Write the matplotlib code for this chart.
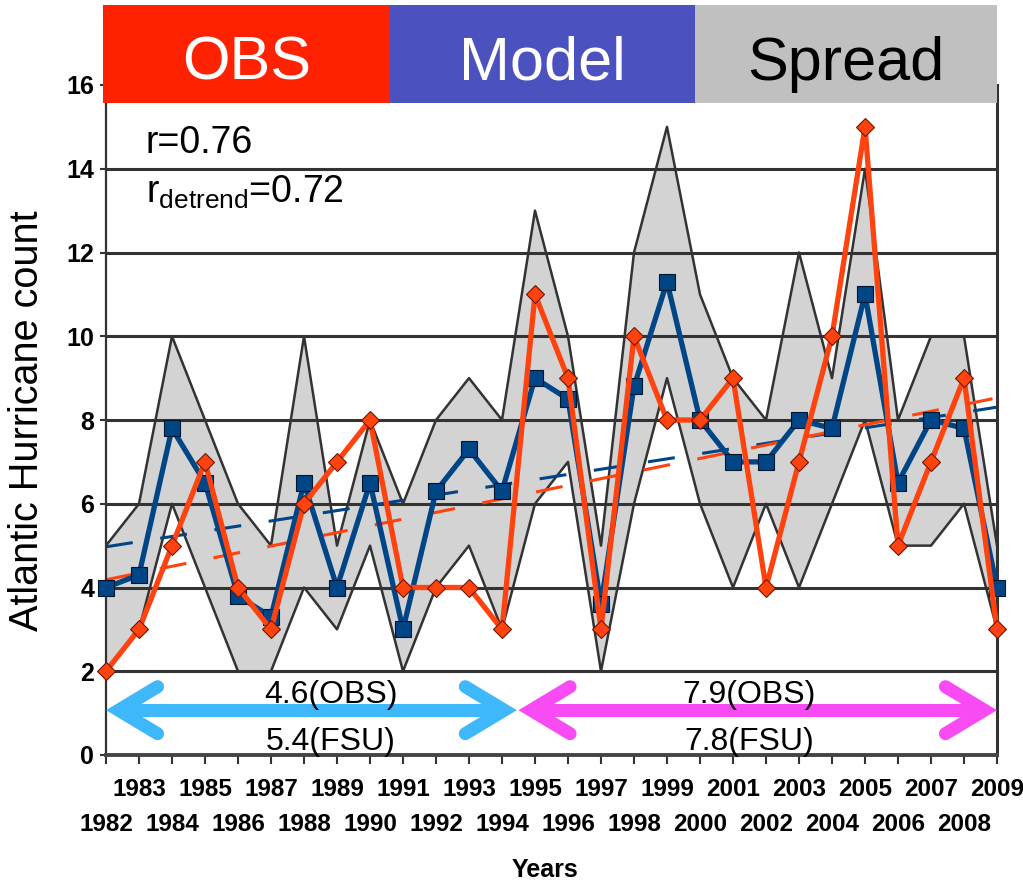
import numpy as np
import matplotlib
matplotlib.use("Agg")
import matplotlib.pyplot as plt
from matplotlib.patches import Rectangle

# ---- data -------------------------------------------------------------
years = np.arange(1982, 2010)
obs = [2, 3, 5, 7, 4, 3, 6, 7, 8, 4, 4, 4, 3, 11, 9, 3, 10, 8, 8, 9, 4, 7, 10, 15, 5, 7, 9, 3]
model = [4, 4.3, 7.8, 6.5, 3.8, 3.3, 6.5, 4, 6.5, 3, 6.3, 7.3, 6.3, 9, 8.5, 3.6, 8.8, 11.3,
         8, 7, 7, 8, 7.8, 11, 6.5, 8, 7.8, 4]
spread_hi = [5, 6, 10, 8, 6, 5, 10, 5, 8, 6, 8, 9, 8, 13, 10, 5, 12, 15, 11, 9, 8, 12, 9, 14,
             8, 10, 10, 5]
spread_lo = [2, 3, 6, 4, 2, 2, 4, 3, 5, 2, 4, 5, 3, 6, 7, 2, 6, 9, 6, 4, 6, 4, 6, 8, 5, 5, 6, 3]
split_year = 1995          # first year of the second period
r_text = "r=0.76"
r_detrend_text = r"r$_{\mathrm{detrend}}$=0.72"
header = [("OBS", "#FF2200", "white"), ("Model", "#4B52BF", "white"), ("Spread", "#C0C0C0", "black")]

# ---- style ------------------------------------------------------------
SANS = ["Liberation Sans", "DejaVu Sans"]
plt.rcParams["font.family"] = SANS
plt.rcParams["mathtext.fontset"] = "custom"
plt.rcParams["mathtext.rm"] = "Liberation Sans"
plt.rcParams["lines.scale_dashes"] = False

BLUE = "#004586"
ORANGE = "#FF420E"
GRID = "#333333"
CYAN = "#3FB8FB"
MAGENTA = "#F94BF4"

W, H = 1023, 885
fig = plt.figure(figsize=(W / 100, H / 100), dpi=100)
ax = fig.add_axes([106 / W, 1 - 755 / H, (997 - 106) / W, (755 - 85) / H])
ax.set_xlim(1982, 2009)
ax.set_ylim(0, 16)

yrs = years.astype(float)

# spread envelope
ax.fill_between(yrs, spread_lo, spread_hi, color="#D3D3D3", lw=0, zorder=1)
ax.plot(yrs, spread_hi, color="#333333", lw=1.8, zorder=1.2)
ax.plot(yrs, spread_lo, color="#333333", lw=1.8, zorder=1.2)

# horizontal grid
for gy in range(2, 17, 2):
    ax.axhline(gy, color=GRID, lw=2.2, zorder=1.5)

# linear trends
for series, col in ((model, BLUE), (obs, ORANGE)):
    k, b = np.polyfit(yrs, series, 1)
    ax.plot(yrs, k * yrs + b, color=col, lw=2.2, dashes=(19.5, 20), zorder=2)

# series
ax.plot(yrs, model, color=BLUE, lw=3.8, marker="s", ms=11, mfc=BLUE, mec="#00162e",
        mew=0.8, zorder=4, clip_on=False)
ax.plot(yrs, obs, color=ORANGE, lw=3.8, marker="D", ms=9, mfc=ORANGE, mec="#6b1800",
        mew=0.8, zorder=5, clip_on=False)

# spines and ticks
ax.spines["top"].set_visible(False)
ax.spines["left"].set_linewidth(1.6)
ax.spines["left"].set_color("#333333")
ax.spines["right"].set_linewidth(2.2)
ax.spines["right"].set_color("#333333")
ax.spines["bottom"].set_linewidth(2.8)
ax.spines["bottom"].set_color("#444444")

odd = years[years % 2 == 1]
even = years[years % 2 == 0]
ax.set_xticks(odd)
ax.set_xticklabels([str(y) for y in odd])
ax.set_xticks(even, minor=True)
ax.set_xticklabels([str(y) for y in even], minor=True)
ax.tick_params(axis="x", which="both", direction="out", length=6.5, width=1.5,
               color="#333333", labelsize=17.5)
ax.tick_params(axis="x", which="major", pad=10)
ax.tick_params(axis="x", which="minor", pad=35)
ax.set_yticks(range(0, 17, 2))
ax.tick_params(axis="y", direction="out", length=4.5, width=1.5, color="#333333",
               labelsize=18, pad=4)
for lbl in ax.get_xticklabels(which="both") + ax.get_yticklabels():
    lbl.set_fontweight("bold")

# axis titles
fig.text(545 / W, 1 - 870 / H, "Years", ha="center", va="center", fontsize=18,
         fontweight="bold")
fig.text(27 / W, 1 - 421 / H, "Atlantic Hurricane count", rotation=90, ha="center",
         va="center", fontsize=28.5)

# correlation annotations
ax.text(1983.2, 14.38, r_text, fontsize=27, va="baseline", ha="left")
ax.text(1983.2, 13.2, r_detrend_text, fontsize=27, va="baseline", ha="left")


# double-headed period arrows
def period_arrow(x0, x1, y, color):
    to_px = ax.transData.transform
    to_data = ax.transData.inverted().transform
    (p0, py), (p1, _) = to_px([(x0, y), (x1, y)])
    w_px = 13.0
    lw = w_px * 72 / 100
    arm_dx, arm_dy = 39.0, 23.5
    alpha = np.arctan2(arm_dy, arm_dx)
    miter = (w_px / 2) / np.sin(alpha)
    for tip, s in ((p0, 1), (p1, -1)):
        vx = tip + s * miter
        pts = to_data([(vx + s * arm_dx, py + arm_dy), (vx, py), (vx + s * arm_dx, py - arm_dy)])
        ax.plot(pts[:, 0], pts[:, 1], color=color, lw=lw, solid_joinstyle="miter",
                solid_capstyle="round", zorder=6, clip_on=False)
    shaft = to_data([(p0 + miter, py), (p1 - miter, py)])
    ax.plot(shaft[:, 0], shaft[:, 1], color=color, lw=lw, solid_capstyle="butt",
            zorder=6, clip_on=False)


period_arrow(1982, split_year - 0.55, 1.07, CYAN)
period_arrow(split_year - 0.5, 2009, 1.07, MAGENTA)

n1 = split_year - years[0]
means = [(np.mean(obs[:n1]), np.mean(model[:n1]), 1988.82),
         (np.mean(obs[n1:]), np.mean(model[n1:]), 2001.5)]
for m_obs, m_fsu, xc in means:
    ax.text(xc, 1.24, f"{m_obs:.1f}(OBS)", fontsize=23, ha="center", va="baseline", zorder=7)
    ax.text(xc, 0.12, f"{m_fsu:.1f}(FSU)", fontsize=23, ha="center", va="baseline", zorder=7)

# header bar
edges = [103, 390, 695, 997]
y0, y1 = 1 - 103 / H, 1 - 5 / H
for (label, fc, tc), xa, xb in zip(header, edges[:-1], edges[1:]):
    fig.patches.append(Rectangle((xa / W, y0), (xb - xa) / W, y1 - y0,
                                 transform=fig.transFigure, facecolor=fc,
                                 edgecolor="none", zorder=10))
    fig.text((xa + xb) / 2 / W, 1 - 80 / H, label, ha="center", va="baseline",
             fontsize=44, color=tc, zorder=11)

fig.savefig("out.png", dpi=100)
